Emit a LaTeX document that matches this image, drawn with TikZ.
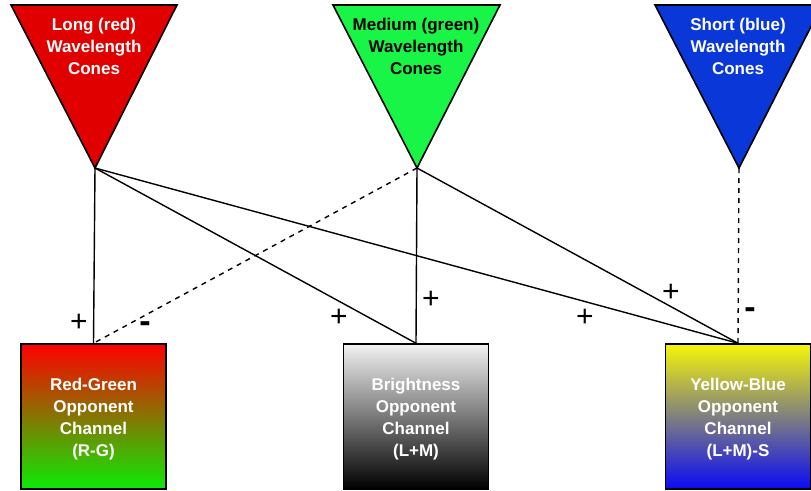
\documentclass[tikz,border=0pt]{standalone}
\usepackage{fontspec}
\setmainfont{Liberation Sans}
\begin{document}
\begin{tikzpicture}[x=1pt,y=-1pt,
  cone/.style={draw=black,line width=1.6pt,line join=miter},
  conetext/.style={font=\fontsize{17}{22}\selectfont\bfseries,align=center,anchor=north},
  chan/.style={draw=black,line width=1.5pt,minimum width=145pt,minimum height=145pt,inner sep=0pt},
  chantext/.style={font=\fontsize{17}{22}\selectfont\bfseries,align=center,text=white},
  wire/.style={line width=1.4pt},
  inh/.style={line width=1.4pt,dashed,dash pattern=on 5pt off 5pt},
  sign/.style={font=\fontsize{30}{30}\selectfont,inner sep=0pt},
  minus/.style={font=\fontsize{34}{34}\selectfont\bfseries,inner sep=0pt}]
\definecolor{conered}{RGB}{225,0,0}
\definecolor{conegreen}{RGB}{25,245,70}
\definecolor{coneblue}{RGB}{10,56,216}
\useasboundingbox (0,0) rectangle (811,490);
% cones
\draw[cone,fill=conered] (11,5) -- (177,5) -- (95,168) -- cycle;
\draw[cone,fill=conegreen] (333,5) -- (500,5) -- (417,168) -- cycle;
\draw[cone,fill=coneblue] (655,5) -- (822,5) -- (739,168) -- cycle;
\coordinate (L) at (95,168);
\coordinate (M) at (417,168);
\coordinate (S) at (739,168);
\node[conetext,text=white] (Lt) at (94,15) {Long (red)\\Wavelength\\Cones};
\node[conetext,text=black] (Mt) at (416,15) {Medium (green)\\Wavelength\\Cones};
\node[conetext,text=white] (St) at (738,15) {Short (blue)\\Wavelength\\Cones};
% channels
\node[chan,top color={rgb,255:red,255;green,0;blue,0},bottom color={rgb,255:red,12;green,235;blue,5}] (RG) at (93.5,416.5) {};
\node[chan,top color={rgb,255:red,242;green,242;blue,242},bottom color=black] (BR) at (416,416.5) {};
\node[chan,top color={rgb,255:red,245;green,245;blue,10},bottom color={rgb,255:red,10;green,10;blue,245}] (YB) at (738,416.5) {};
\node[chantext] (RGt) at (93.5,419) {Red-Green\\Opponent\\Channel\\(R-G)};
\node[chantext] (BRt) at (416,419) {Brightness\\Opponent\\Channel\\(L+M)};
\node[chantext] (YBt) at (738,419) {Yellow-Blue\\Opponent\\Channel\\(L+M)-S};
% connectors
\draw[wire] (L) -- (RG.north);
\draw[wire] (L) -- (BR.north);
\draw[wire] (L) -- (YB.north);
\draw[inh] (M) -- (RG.north);
\draw[wire] (M) -- (BR.north);
\draw[wire] (M) -- (YB.north);
\draw[inh] (S) -- (YB.north);
% signs
\node[sign] (p1) at (79,323) {+};
\node[minus] (m1) at (145,327) {-};
\node[sign] (p2) at (339,318) {+};
\node[sign] (p3) at (431,300) {+};
\node[sign] (p4) at (585,318) {+};
\node[sign] (p5) at (671,293) {+};
\node[minus] (m2) at (750,313) {-};
\end{tikzpicture}
\end{document}
